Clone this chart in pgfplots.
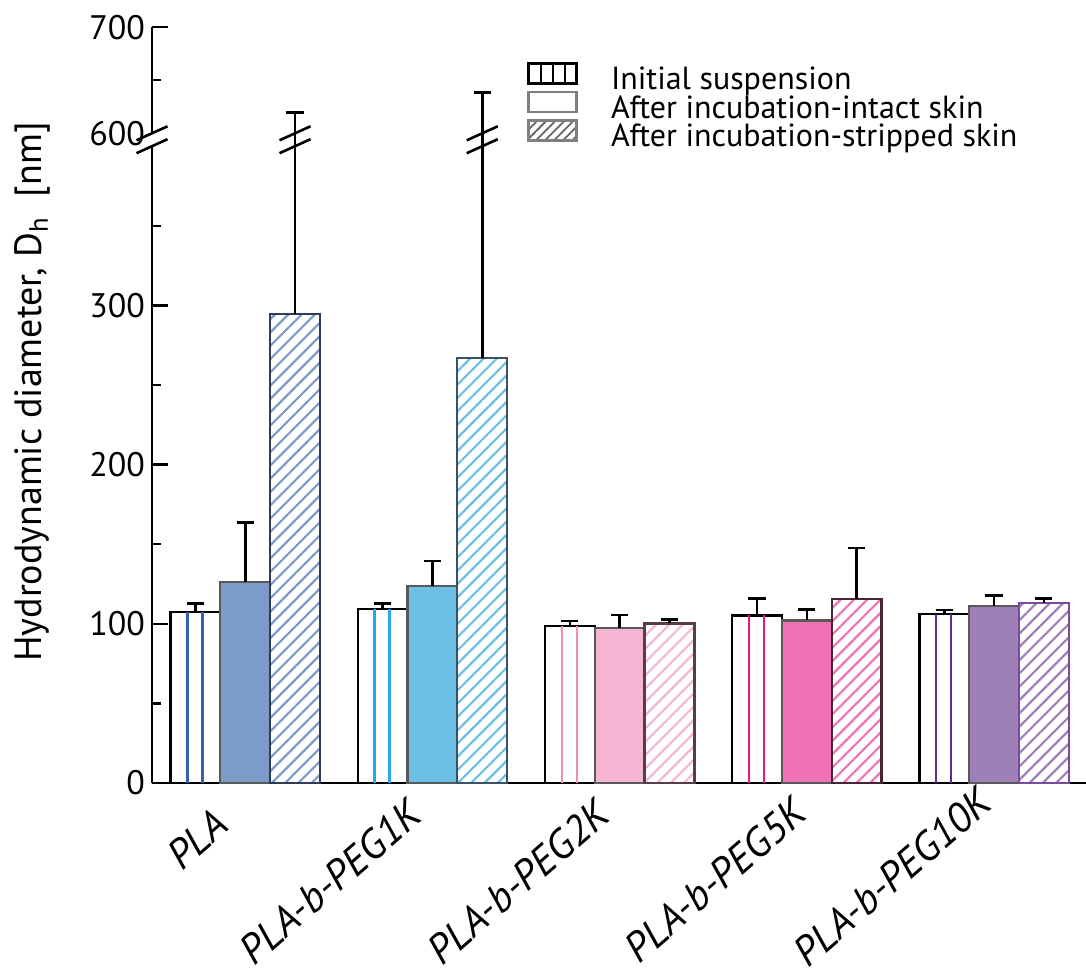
\documentclass[border=0pt]{standalone}
\usepackage{pgfplots}
\pgfplotsset{compat=1.18}
\usepackage{fontspec}
\setmainfont{PT Sans}
\usetikzlibrary{patterns.meta}

\definecolor{plaS}{HTML}{3563AE}
\definecolor{plaF}{HTML}{7B9BC9}
\definecolor{plaE}{HTML}{2E3C58}
\definecolor{kaS}{HTML}{26A8E0}
\definecolor{kaF}{HTML}{6CC0E5}
\definecolor{kaE}{HTML}{3A5264}
\definecolor{kbS}{HTML}{F28CBA}
\definecolor{kbF}{HTML}{F4B6D2}
\definecolor{kbE}{HTML}{5A3C48}
\definecolor{kcS}{HTML}{E6197C}
\definecolor{kcF}{HTML}{EF73B4}
\definecolor{kcE}{HTML}{4A2434}
\definecolor{kdS}{HTML}{5B2D8E}
\definecolor{kdF}{HTML}{9E80B8}
\definecolor{kdE}{HTML}{7A4AA0}

\pgfplotsset{
  errs/.style={error bars/.cd, y dir=plus, y explicit,
     error bar style={black, line width=1.3pt},
     error mark options={black, line width=1.3pt, mark size=4.3pt, rotate=90}},
  initbar/.style={forget plot, ybar, bar width=0.266, bar shift=0pt, fill=white, draw=black, line width=1.15pt, errs},
  stripe/.style={forget plot, ycomb, mark=none, line width=1.25pt, color=#1},
  intbar/.style={forget plot, ybar, bar width=0.266, bar shift=0pt, fill=#1, draw=black!65, line width=1.05pt, errs},
  hatbar/.style 2 args={forget plot, ybar, bar width=0.266, bar shift=0pt, pattern={Lines[angle=45,distance=4.7pt,line width=1.1pt]}, pattern color=#1, draw=#2, line width=1.15pt, errs},
  common/.style={
    scale only axis, width=467pt,
    xmin=-0.498, xmax=4.491,
    axis y line=left,
    tick align=inside,
    major tick length=8pt, minor tick length=4.5pt,
    every tick/.style={black, line width=1.2pt},
    yticklabel style={font=\fontsize{17}{20}\selectfont},
    /pgf/number format/assume math mode=true,
  },
}

\begin{document}
\begin{tikzpicture}
\begin{axis}[common, name=lower,
  at={(0,0)}, anchor=south west,
  height=318.4pt,
  ymin=0, ymax=400,
  axis x line=bottom,
  axis line style={line width=1.3pt, -},
  xtick=\empty,
  ytick={0,100,200,300}, minor ytick={50,150,250,350},
  ylabel={Hydrodynamic diameter, D\textsubscript{h}\ \ [nm]},
  ylabel style={font=\fontsize{19}{22}\selectfont, at={(axis description cs:-0.1285,0.614)}, anchor=center},
  legend style={at={(axis description cs:0.4015,1.1325)}, anchor=north west, draw=none, fill=none,
    inner sep=0pt, row sep=-2.75pt, column sep=16.5pt,
    font=\fontsize{16}{18}\selectfont,
    nodes={inner sep=0pt, text height=11.5pt, text depth=3.25pt}},
  legend cell align=left,
]
% PLA
\addplot[initbar] coordinates {(-0.266,107.5) +- (0,5.3)};
\addplot[stripe=plaS] coordinates {(-0.309,107.5) (-0.229,107.5)};
\addplot[intbar=plaF] coordinates {(0,126.0) +- (0,37.5)};
\addplot[hatbar={plaF}{plaE}] coordinates {(0.266,294.8) +- (0,325.0)};
% PLA-b-PEG1K
\addplot[initbar] coordinates {(0.734,109.2) +- (0,3.6)};
\addplot[stripe=kaS] coordinates {(0.691,109.2) (0.771,109.2)};
\addplot[intbar=kaF] coordinates {(1,123.7) +- (0,15.7)};
\addplot[hatbar={kaF}{kaE}] coordinates {(1.266,266.8) +- (0,371.9)};
% PLA-b-PEG2K
\addplot[initbar] coordinates {(1.734,98.6) +- (0,3.1)};
\addplot[stripe=kbS] coordinates {(1.691,98.6) (1.771,98.6)};
\addplot[intbar=kbF] coordinates {(2,97.5) +- (0,8.0)};
\addplot[hatbar={kbF}{kbE}] coordinates {(2.266,100.2) +- (0,2.5)};
% PLA-b-PEG5K
\addplot[initbar] coordinates {(2.734,105.3) +- (0,10.6)};
\addplot[stripe=kcS] coordinates {(2.691,105.3) (2.771,105.3)};
\addplot[intbar=kcF] coordinates {(3,102.1) +- (0,6.9)};
\addplot[hatbar={kcF}{kcE}] coordinates {(3.266,115.7) +- (0,31.9)};
% PLA-b-PEG10K
\addplot[initbar] coordinates {(3.734,106.2) +- (0,2.5)};
\addplot[stripe=kdS] coordinates {(3.691,106.2) (3.771,106.2)};
\addplot[intbar=kdF] coordinates {(4,111.2) +- (0,6.5)};
\addplot[hatbar={kdF}{kdE}] coordinates {(4.266,113.1) +- (0,2.9)};

\addlegendimage{legend image code/.code={
  \draw[black,line width=1.3pt] (0pt,-1pt) rectangle (24pt,9pt);
  \foreach \xx in {6,12,18} {\draw[black,line width=1.1pt] (\xx pt,-1pt) -- (\xx pt,9pt);}
}}
\addlegendentry{Initial suspension}
\addlegendimage{legend image code/.code={
  \draw[black!50,line width=1.3pt,fill=white] (0pt,-1pt) rectangle (24pt,9pt);
}}
\addlegendentry{After incubation-intact skin}
\addlegendimage{legend image code/.code={
  \draw[black!50,line width=1.3pt,pattern={Lines[angle=45,distance=3.2pt,line width=0.9pt]},pattern color=black!60] (0pt,-1pt) rectangle (24pt,9pt);
}}
\addlegendentry{After incubation-stripped skin}

\coordinate (b0) at (rel axis cs:0,1);
\coordinate (b1) at (axis cs:0.266,400);
\coordinate (b2) at (axis cs:1.266,400);
\end{axis}

\begin{axis}[common, name=upper,
  at={(lower.south west)}, yshift=324.85pt, anchor=south west,
  height=53pt,
  ymin=600, ymax=700,
  axis x line=none,
  axis line style={line width=1.3pt, -},
  ytick={700}, minor ytick={650},
  extra y ticks={600},
  extra y tick style={major tick length=0pt},
]
\addplot[forget plot, draw=none, mark=none, errs] coordinates {(0.266,294.8) +- (0,325.0)};
\addplot[forget plot, draw=none, mark=none, errs] coordinates {(1.266,266.8) +- (0,371.9)};
\coordinate (t0) at (rel axis cs:0,0);
\coordinate (t1) at (axis cs:0.266,600);
\coordinate (t2) at (axis cs:1.266,600);
\end{axis}

% axis break and error-bar break marks
\draw[line width=1.3pt] (b1) -- (t1);
\draw[line width=1.3pt] (b2) -- (t2);
\foreach \p in {b0,t0,b1,t1,b2,t2} {
  \draw[line width=1.3pt] ([shift={(-7.75pt,-3.5pt)}]\p) -- ++(15.5pt,7pt);
}

% category labels (centres placed as in the reference)
\foreach \dx/\dy/\t in {22.5/-28/PLA, 89/-49.5/PLA-b-PEG1K, 183/-49.5/PLA-b-PEG2K, 281.5/-48.5/PLA-b-PEG5K, 370/-47/PLA-b-PEG10K} {
  \node[rotate=41, anchor=center, inner sep=0pt, font=\itshape\fontsize{20.5}{24}\selectfont]
    at ([shift={(\dx pt,\dy pt)}]lower.south west) {\t};
}

\pgfresetboundingbox
\path[use as bounding box] ([shift={(-76pt,-96pt)}]lower.south west) rectangle ++(543pt,487.5pt);
\end{tikzpicture}
\end{document}
